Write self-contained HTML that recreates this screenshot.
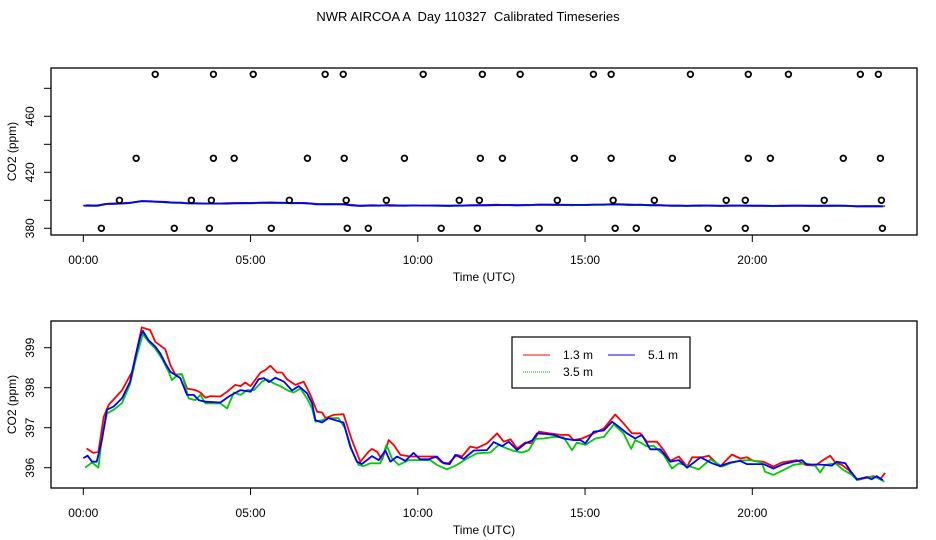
<!DOCTYPE html>
<html><head><meta charset="utf-8"><style>
html,body{margin:0;padding:0;background:#fff;}
svg{display:block;font-family:"Liberation Sans",Arial,sans-serif;}
</style></head><body>
<svg id="chart" width="936" height="540" viewBox="0 0 936 540" xmlns="http://www.w3.org/2000/svg">
<text x="468" y="21" font-size="13" text-anchor="middle" style="white-space:pre" xml:space="preserve">NWR AIRCOA A  Day 110327  Calibrated Timeseries</text>
<g id="top"></g>
<g id="bot"></g>
</svg>
<script>
const xTicks=[0,5,10,15,20];
const xTickLabels=["00:00","05:00","10:00","15:00","20:00"];
const topYTicks=[380,400,420,440,460,480];
const topYLabels=["380","","420","","460",""];
const botYTicks=[396,397,398,399];
const botYLabels=["396","397","398","399"];
// calibration circles (hours) by level
const calLevels=[490,430,400,380];
const cal490=[2.15,3.89,5.08,7.23,7.77,10.16,11.93,13.06,15.25,15.78,18.15,19.88,21.08,23.23,23.77];
const cal430=[1.58,3.89,4.51,6.70,7.80,9.60,11.87,12.53,14.68,15.78,17.61,19.88,20.54,22.72,23.83];
const cal400=[1.08,3.23,3.83,6.16,7.86,9.06,11.24,11.84,14.17,15.84,17.07,19.22,19.79,22.15,23.86];
const cal380=[0.54,2.72,3.77,5.62,7.89,8.52,10.70,11.78,13.63,15.90,16.53,18.68,19.79,21.61,23.89];
// series 5.1 m (blue)
const blueT=[0,0.13,0.26,0.4,0.56,0.71,0.91,1.16,1.4,1.56,1.7,1.78,1.95,2.15,2.3,2.45,2.6,2.75,2.9,3.1,3.3,3.45,3.65,4.1,4.35,4.7,5.0,5.24,5.4,5.55,5.74,6.0,6.24,6.44,6.69,6.84,6.94,7.14,7.33,7.68,7.78,7.98,8.18,8.33,8.48,8.63,8.83,9.03,9.18,9.38,9.63,9.87,10.07,10.32,10.57,10.77,10.95,11.12,11.37,11.67,12.07,12.27,12.52,12.72,12.97,13.22,13.42,13.57,13.87,14.06,14.36,14.66,14.86,15.01,15.26,15.56,15.81,16.0,16.25,16.5,16.7,16.95,17.25,17.55,17.8,18.05,18.45,18.8,19.04,19.34,19.64,19.84,20.33,20.63,20.93,21.23,21.48,21.63,21.93,22.18,22.38,22.53,22.78,22.95,23.13,23.42,23.57,23.72,23.9];
const blueV=[396.24,396.3,396.15,396.15,396.7,397.45,397.53,397.74,398.15,398.78,399.28,399.42,399.19,399.03,398.86,398.61,398.4,398.32,398.24,397.82,397.82,397.69,397.65,397.63,397.78,397.94,397.9,398.21,398.24,398.14,398.25,398.15,397.93,398.04,397.86,397.61,397.19,397.13,397.24,397.15,397.13,396.53,396.15,396.09,396.19,396.29,396.19,396.43,396.15,396.28,396.17,396.37,396.21,396.21,396.28,396.11,396.09,396.32,396.22,396.43,396.44,396.64,396.54,396.65,396.44,396.61,396.68,396.86,396.84,396.82,396.73,396.69,396.69,396.61,396.9,396.93,397.15,397.03,396.86,396.73,396.82,396.46,396.46,396.15,396.19,396.0,396.26,396.11,396.04,396.13,396.17,396.09,396.09,395.98,396.09,396.15,396.19,396.08,396.08,396.07,396.05,396.15,396.11,395.9,395.71,395.76,395.71,395.79,395.69];
// series 1.3 m (red)
const redT=[0.1,0.3,0.45,0.61,0.76,1.16,1.46,1.75,2.0,2.15,2.45,2.6,2.75,2.95,3.1,3.35,3.5,3.65,3.8,4.1,4.3,4.54,4.7,4.84,5.0,5.3,5.44,5.59,5.79,5.94,6.09,6.34,6.59,6.79,6.99,7.14,7.24,7.48,7.78,8.03,8.28,8.53,8.63,8.78,8.93,9.13,9.28,9.48,9.78,10.13,10.53,10.72,10.92,11.17,11.32,11.57,11.77,12.07,12.37,12.57,12.77,12.97,13.22,13.42,13.62,13.92,14.27,14.51,14.66,14.91,15.26,15.56,15.9,16.15,16.4,16.65,16.85,17.15,17.35,17.55,17.8,18.05,18.2,18.5,18.7,19.04,19.39,19.64,19.84,20.04,20.33,20.63,20.88,21.33,21.58,21.88,22.08,22.33,22.48,22.68,22.88,23.13,23.42,23.62,23.82,23.97];
const redV=[396.48,396.37,396.4,397.27,397.57,397.94,398.4,399.51,399.44,399.15,398.96,398.57,398.33,398.33,397.98,397.94,397.88,397.75,397.79,397.78,397.9,398.07,398.04,398.13,398.04,398.38,398.44,398.55,398.38,398.38,398.21,398.07,398.15,397.82,397.4,397.38,397.24,397.32,397.34,396.69,396.15,396.4,396.47,396.4,396.2,396.69,396.57,396.32,396.28,396.28,396.28,396.13,396.11,396.32,396.28,396.53,396.49,396.61,396.86,396.65,396.71,396.48,396.63,396.61,396.9,396.86,396.82,396.82,396.69,396.73,396.86,396.98,397.33,397.11,396.86,396.86,396.65,396.65,396.44,396.17,396.28,396.03,396.26,396.26,396.3,396.03,396.33,396.23,396.26,396.17,396.15,396.03,396.13,396.19,396.07,396.05,396.17,396.3,396.13,396.07,395.94,395.69,395.75,395.79,395.71,395.87];
// series 3.5 m (green)
const greenT=[0.05,0.26,0.45,0.56,0.71,0.91,1.16,1.4,1.56,1.78,1.95,2.15,2.35,2.55,2.65,2.85,2.95,3.15,3.35,3.5,3.65,4.1,4.3,4.5,4.7,4.9,5.1,5.34,5.49,5.69,5.89,6.14,6.29,6.49,6.69,6.84,6.94,7.14,7.33,7.63,7.83,8.03,8.23,8.38,8.58,8.88,9.06,9.23,9.43,9.73,10.07,10.37,10.57,10.87,11.17,11.47,11.77,12.17,12.42,12.67,12.87,13.12,13.32,13.52,13.77,14.06,14.36,14.61,14.76,15.01,15.31,15.56,15.86,16.15,16.38,16.5,16.7,16.85,17.05,17.35,17.6,17.8,18.1,18.4,18.75,19.1,19.34,19.64,19.94,20.28,20.38,20.63,20.93,21.23,21.58,21.88,22.03,22.18,22.48,22.73,22.98,23.13,23.42,23.72,23.95];
const greenV=[396.0,396.13,396.0,396.77,397.36,397.45,397.62,398.09,398.68,399.34,399.15,398.98,398.73,398.4,398.19,398.34,398.34,397.73,397.69,397.82,397.61,397.61,397.48,397.88,397.82,397.94,397.94,398.15,398.21,398.11,398.04,397.92,397.88,397.98,397.73,397.48,397.15,397.19,397.24,397.24,396.98,396.44,396.07,396.04,396.11,396.11,396.57,396.23,396.07,396.19,396.19,396.19,396.07,395.96,396.07,396.23,396.36,396.38,396.57,396.48,396.42,396.38,396.44,396.72,396.73,396.77,396.76,396.44,396.63,396.57,396.73,396.77,397.08,396.86,396.47,396.69,396.61,396.53,396.55,396.32,395.98,396.11,396.04,395.96,396.21,396.03,396.11,396.18,396.19,396.13,395.9,395.82,395.94,396.07,396.11,396.05,395.88,396.07,396.11,395.94,395.82,395.69,395.77,395.76,395.65];

const NS="http://www.w3.org/2000/svg";
function mk(tag,attrs,parent,txt){const e=document.createElementNS(NS,tag);for(const k in attrs)e.setAttribute(k,attrs[k]);if(txt!==undefined)e.textContent=txt;parent.appendChild(e);return e;}
const X0=83.3, XPH=33.45;
const xs=h=>X0+h*XPH;
const topY=v=>228.3-(v-380)*1.4;
const botY=v=>467.7-(v-396)*40;
const L=51,R=917;

function panel(g,top,bottom,yf,yT,yL,prefix){
  const box=mk('rect',{x:L,y:top,width:R-L,height:bottom-top,fill:'none',stroke:'#000','stroke-width':1.3},g);
  
  
  xTicks.forEach((t,i)=>{
    const tk=mk('line',{x1:xs(t),x2:xs(t),y1:bottom,y2:bottom+7,stroke:'#000'},g);
    
    
    const lb=mk('text',{x:xs(t),y:bottom+29,'font-size':12,'text-anchor':'middle'},g,xTickLabels[i]);
    
    
  });
  const xt=mk('text',{x:484,y:bottom+46,'font-size':12,'text-anchor':'middle'},g,'Time (UTC)');
  
  
  yT.forEach((t,i)=>{
    const tk=mk('line',{x1:L-7,x2:L,y1:yf(t),y2:yf(t),stroke:'#000'},g);
    
    
    if(yL[i]){
      const lb=mk('text',{x:0,y:0,'font-size':12,'text-anchor':'middle',transform:`translate(34,${yf(t)}) rotate(-90)`},g,yL[i]);
      
      
    }
  });
  const yt=mk('text',{x:0,y:0,'font-size':12,'text-anchor':'middle',transform:`translate(16,${(top+bottom)/2}) rotate(-90)`},g,'CO2 (ppm)');
  
  
}
function series(g,T,V,yf,color,name,w){
  const d=T.map((t,i)=>(i?'L':'M')+xs(t).toFixed(1)+' '+yf(V[i]).toFixed(1)).join(' ');
  const p=mk('path',{d:d,fill:'none',stroke:color,'stroke-width':w,'stroke-linejoin':'round'},g);
  
  
}
const gt=document.getElementById('top'), gb=document.getElementById('bot');
panel(gt,68,235,topY,topYTicks,topYLabels,'top');
panel(gb,321,488,botY,botYTicks,botYLabels,'bottom');
series(gt,redT,redV,topY,'#f00','top-series-1-3m',1.8);
series(gt,greenT,greenV,topY,'#0c0','top-series-3-5m',1.8);
series(gt,blueT,blueV,topY,'#00f','top-series-5-1m',1.8);
[cal490,cal430,cal400,cal380].forEach((arr,k)=>{
  arr.forEach(h=>{
    const c=mk('circle',{cx:xs(h),cy:topY(calLevels[k]),r:2.8,fill:'none',stroke:'#000','stroke-width':1.8},gt);
    
    
  });
});
series(gb,redT,redV,botY,'#f00','series-1-3m',1.8);
series(gb,greenT,greenV,botY,'#0c0','series-3-5m',1.8);
series(gb,blueT,blueV,botY,'#00f','series-5-1m',1.8);
// legend
const lg=mk('g',{},gb);


mk('rect',{x:512,y:337,width:178,height:51,fill:'#fff',stroke:'#000','stroke-width':1.2},lg);
const entries=[['1.3 m','#f00',523,355,''],['5.1 m','#00f',608,355,''],['3.5 m','#0a0',523,372,'1 1']];
entries.forEach(e=>{
  const ln=mk('line',{x1:e[2],x2:e[2]+27,y1:e[3],y2:e[3],stroke:e[1],'stroke-dasharray':e[4]},lg);
  
  
  const tx=mk('text',{x:e[2]+40,y:e[3]+4,'font-size':12},lg,e[0]);
  
  
});
</script>
</body></html>
